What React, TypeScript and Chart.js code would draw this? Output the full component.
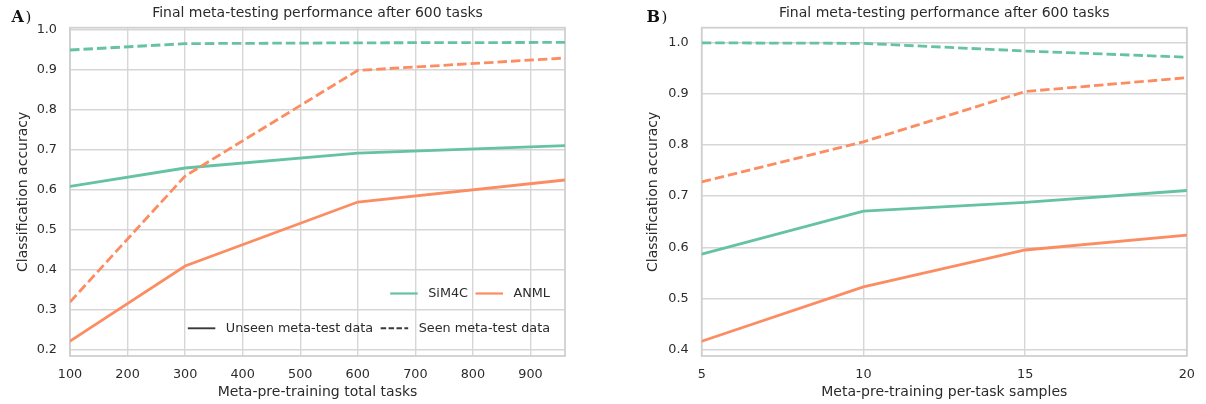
import React, { useEffect, useRef } from "react";
import { Chart, registerables } from "chart.js";

Chart.register(...registerables);

// ---------- data ----------
const tasksX = [100, 300, 600, 960];
const tasksSim4cUnseen = [0.609, 0.655, 0.692, 0.711];
const tasksAnmlUnseen = [0.222, 0.41, 0.57, 0.625];
const tasksSim4cSeen = [0.95, 0.966, 0.968, 0.969];
const tasksAnmlSeen = [0.32, 0.635, 0.899, 0.93];

const samplesX = [5, 10, 15, 20];
const samplesSim4cUnseen = [0.587, 0.671, 0.688, 0.711];
const samplesAnmlUnseen = [0.417, 0.523, 0.595, 0.624];
const samplesSim4cSeen = [0.999, 0.998, 0.983, 0.971];
const samplesAnmlSeen = [0.728, 0.806, 0.904, 0.931];

const tasksTicks = [100, 200, 300, 400, 500, 600, 700, 800, 900];
const samplesTicks = [5, 10, 15, 20];
const accTicksA = [0.2, 0.3, 0.4, 0.5, 0.6, 0.7, 0.8, 0.9, 1.0];
const accTicksB = [0.4, 0.5, 0.6, 0.7, 0.8, 0.9, 1.0];

const methodNames = ["SiM4C", "ANML"];
const dataNames = ["Unseen meta-test data", "Seen meta-test data"];
const panelTitle = "Final meta-testing performance after 600 tasks";
const yTitle = "Classification accuracy";
const tasksXTitle = "Meta-pre-training total tasks";
const samplesXTitle = "Meta-pre-training per-task samples";

// ---------- style ----------
const GREEN = "#66c2a5";
const ORANGE = "#fc8d62";
const TEXT = "#2b2b2b";
const GRID = "#d6d6d6";
const FONT = "DejaVu Sans";
const SEEN_DASH = [9.5, 4];

const framePlugin = {
  id: "frame",
  beforeDatasetsDraw(chart: any) {
    const { ctx, chartArea } = chart;
    const { left, top, right, bottom } = chartArea;
    ctx.save();
    ctx.strokeStyle = "#d0d0d0";
    ctx.lineWidth = 1.8;
    ctx.strokeRect(left, top, right - left, bottom - top);
    ctx.restore();
  },
};

const panelLabelPlugin = {
  id: "panelLabel",
  afterDraw(chart: any, _args: any, opts: any) {
    if (!opts || !opts.text) return;
    const { ctx } = chart;
    ctx.save();
    ctx.fillStyle = "#111";
    ctx.textBaseline = "alphabetic";
    ctx.textAlign = "left";
    ctx.font = `bold 16px "DejaVu Serif"`;
    ctx.fillText(opts.text, opts.x, 22);
    const w = ctx.measureText(opts.text).width;
    ctx.font = `15px "DejaVu Serif"`;
    ctx.fillText(")", opts.x + w + 1.5, 22);
    ctx.restore();
  },
};

const legendPlugin = {
  id: "panelLegend",
  afterDatasetsDraw(chart: any, _args: any, opts: any) {
    if (!opts || !opts.show) return;
    const { ctx, chartArea } = chart;
    ctx.save();
    ctx.font = `12.8px "${FONT}"`;
    ctx.textBaseline = "middle";
    ctx.textAlign = "left";
    const handleLen = 27.5;
    const textPad = 10.5;
    const colGap = 7.5;
    const rows = [
      {
        y: chartArea.bottom - 62.5,
        lw: 2.2,
        items: [
          { label: methodNames[0], color: GREEN, dash: [] as number[] },
          { label: methodNames[1], color: ORANGE, dash: [] as number[] },
        ],
      },
      {
        y: chartArea.bottom - 27.7,
        lw: 1.9,
        items: [
          { label: dataNames[0], color: "#3a3a3a", dash: [] as number[] },
          { label: dataNames[1], color: "#3a3a3a", dash: [5.5, 2.4] },
        ],
      },
    ];
    const rightEdge = chartArea.right - 15;
    for (const row of rows) {
      let x = rightEdge;
      for (let i = row.items.length - 1; i >= 0; i--) {
        const it = row.items[i];
        const w = ctx.measureText(it.label).width;
        const tx = x - w;
        ctx.fillStyle = TEXT;
        ctx.fillText(it.label, tx, row.y + 0.5);
        ctx.beginPath();
        ctx.setLineDash(it.dash);
        ctx.strokeStyle = it.color;
        ctx.lineWidth = row.lw;
        ctx.moveTo(tx - textPad - handleLen, row.y);
        ctx.lineTo(tx - textPad, row.y);
        ctx.stroke();
        ctx.setLineDash([]);
        x = tx - textPad - handleLen - colGap;
      }
    }
    ctx.restore();
  },
};

type PanelSpec = {
  label: string;
  labelX: number;
  xs: number[];
  sim4cUnseen: number[];
  anmlUnseen: number[];
  sim4cSeen: number[];
  anmlSeen: number[];
  xMin: number;
  xMax: number;
  yMin: number;
  yMax: number;
  xTicks: number[];
  yTicks: number[];
  xTitle: string;
  yAxisWidth: number;
  yTitlePad: number;
  padRight: number;
  showLegend: boolean;
};

const pts = (xs: number[], ys: number[]) => xs.map((x, i) => ({ x, y: ys[i] }));

function makeConfig(s: PanelSpec): any {
  const line = (data: number[], color: string, dashed: boolean) => ({
    data: pts(s.xs, data),
    borderColor: color,
    backgroundColor: color,
    borderWidth: 2.8,
    borderDash: dashed ? SEEN_DASH : [],
    borderCapStyle: dashed ? "butt" : "round",
    pointRadius: 0,
    pointHoverRadius: 0,
    tension: 0,
    fill: false,
  });
  return {
    type: "line",
    data: {
      datasets: [
        line(s.anmlSeen, ORANGE, true),
        line(s.sim4cSeen, GREEN, true),
        line(s.anmlUnseen, ORANGE, false),
        line(s.sim4cUnseen, GREEN, false),
      ],
    },
    options: {
      animation: false,
      responsive: false,
      events: [],
      layout: { padding: { left: 0, right: s.padRight, top: 0, bottom: 0 } },
      plugins: {
        legend: { display: false },
        tooltip: { enabled: false },
        title: {
          display: true,
          text: panelTitle,
          fullSize: false,
          color: TEXT,
          font: { family: FONT, size: 14, weight: "normal" },
          padding: { top: 5, bottom: 5.9 },
        },
        panelLegend: { show: s.showLegend },
        panelLabel: { text: s.label, x: s.labelX },
      },
      scales: {
        x: {
          type: "linear",
          min: s.xMin,
          max: s.xMax,
          afterBuildTicks: (scale: any) => {
            scale.ticks = s.xTicks.map((v) => ({ value: v }));
          },
          afterFit: (scale: any) => {
            scale.height = 48;
          },
          grid: { color: GRID, lineWidth: 1.4, drawTicks: false },
          border: { display: false },
          ticks: {
            color: TEXT,
            font: { family: FONT, size: 12.8 },
            padding: 11,
            maxRotation: 0,
            autoSkip: false,
            callback: (v: any) => String(v),
          },
          title: {
            display: true,
            text: s.xTitle,
            color: TEXT,
            font: { family: FONT, size: 14 },
            padding: { top: 0, bottom: 3.6 },
          },
        },
        y: {
          type: "linear",
          min: s.yMin,
          max: s.yMax,
          afterBuildTicks: (scale: any) => {
            scale.ticks = s.yTicks.map((v) => ({ value: v }));
          },
          afterFit: (scale: any) => {
            scale.width = s.yAxisWidth;
          },
          grid: { color: GRID, lineWidth: 1.4, drawTicks: false },
          border: { display: false },
          ticks: {
            color: TEXT,
            font: { family: FONT, size: 12.8 },
            padding: 13,
            autoSkip: false,
            callback: (v: any) => Number(v).toFixed(1),
          },
          title: {
            display: true,
            text: yTitle,
            color: TEXT,
            font: { family: FONT, size: 14 },
            padding: { top: s.yTitlePad, bottom: 0 },
          },
        },
      },
    },
    plugins: [framePlugin, legendPlugin, panelLabelPlugin],
  };
}

const panelA: PanelSpec = {
  label: "A",
  labelX: 11.5,
  xs: tasksX,
  sim4cUnseen: tasksSim4cUnseen,
  anmlUnseen: tasksAnmlUnseen,
  sim4cSeen: tasksSim4cSeen,
  anmlSeen: tasksAnmlSeen,
  xMin: 100,
  xMax: 960,
  yMin: 0.185,
  yMax: 1.0058,
  xTicks: tasksTicks,
  yTicks: accTicksA,
  xTitle: tasksXTitle,
  yAxisWidth: 70,
  yTitlePad: 14.6,
  padRight: 35,
  showLegend: true,
};

const panelB: PanelSpec = {
  label: "B",
  labelX: 46.5,
  xs: samplesX,
  sim4cUnseen: samplesSim4cUnseen,
  anmlUnseen: samplesAnmlUnseen,
  sim4cSeen: samplesSim4cSeen,
  anmlSeen: samplesAnmlSeen,
  xMin: 5,
  xMax: 20,
  yMin: 0.3883,
  yMax: 1.0285,
  xTicks: samplesTicks,
  yTicks: accTicksB,
  xTitle: samplesXTitle,
  yAxisWidth: 101.7,
  yTitlePad: 45,
  padRight: 10,
  showLegend: false,
};

function Panel({ spec, left, width }: { spec: PanelSpec; left: number; width: number }) {
  const ref = useRef<HTMLCanvasElement>(null);
  useEffect(() => {
    if (!ref.current) return;
    const chart = new Chart(ref.current, makeConfig(spec));
    return () => chart.destroy();
  }, [spec]);
  return (
    <canvas
      ref={ref}
      width={width}
      height={404}
      style={{ position: "absolute", left, top: 0, width, height: 404 }}
    />
  );
}

export default function App() {
  return (
    <div
      style={{
        position: "absolute",
        left: 0,
        top: 0,
        width: 1206,
        height: 404,
        background: "#ffffff",
        overflow: "hidden",
      }}
    >
      <Panel spec={panelA} left={0} width={600} />
      <Panel spec={panelB} left={600} width={606} />
    </div>
  );
}
